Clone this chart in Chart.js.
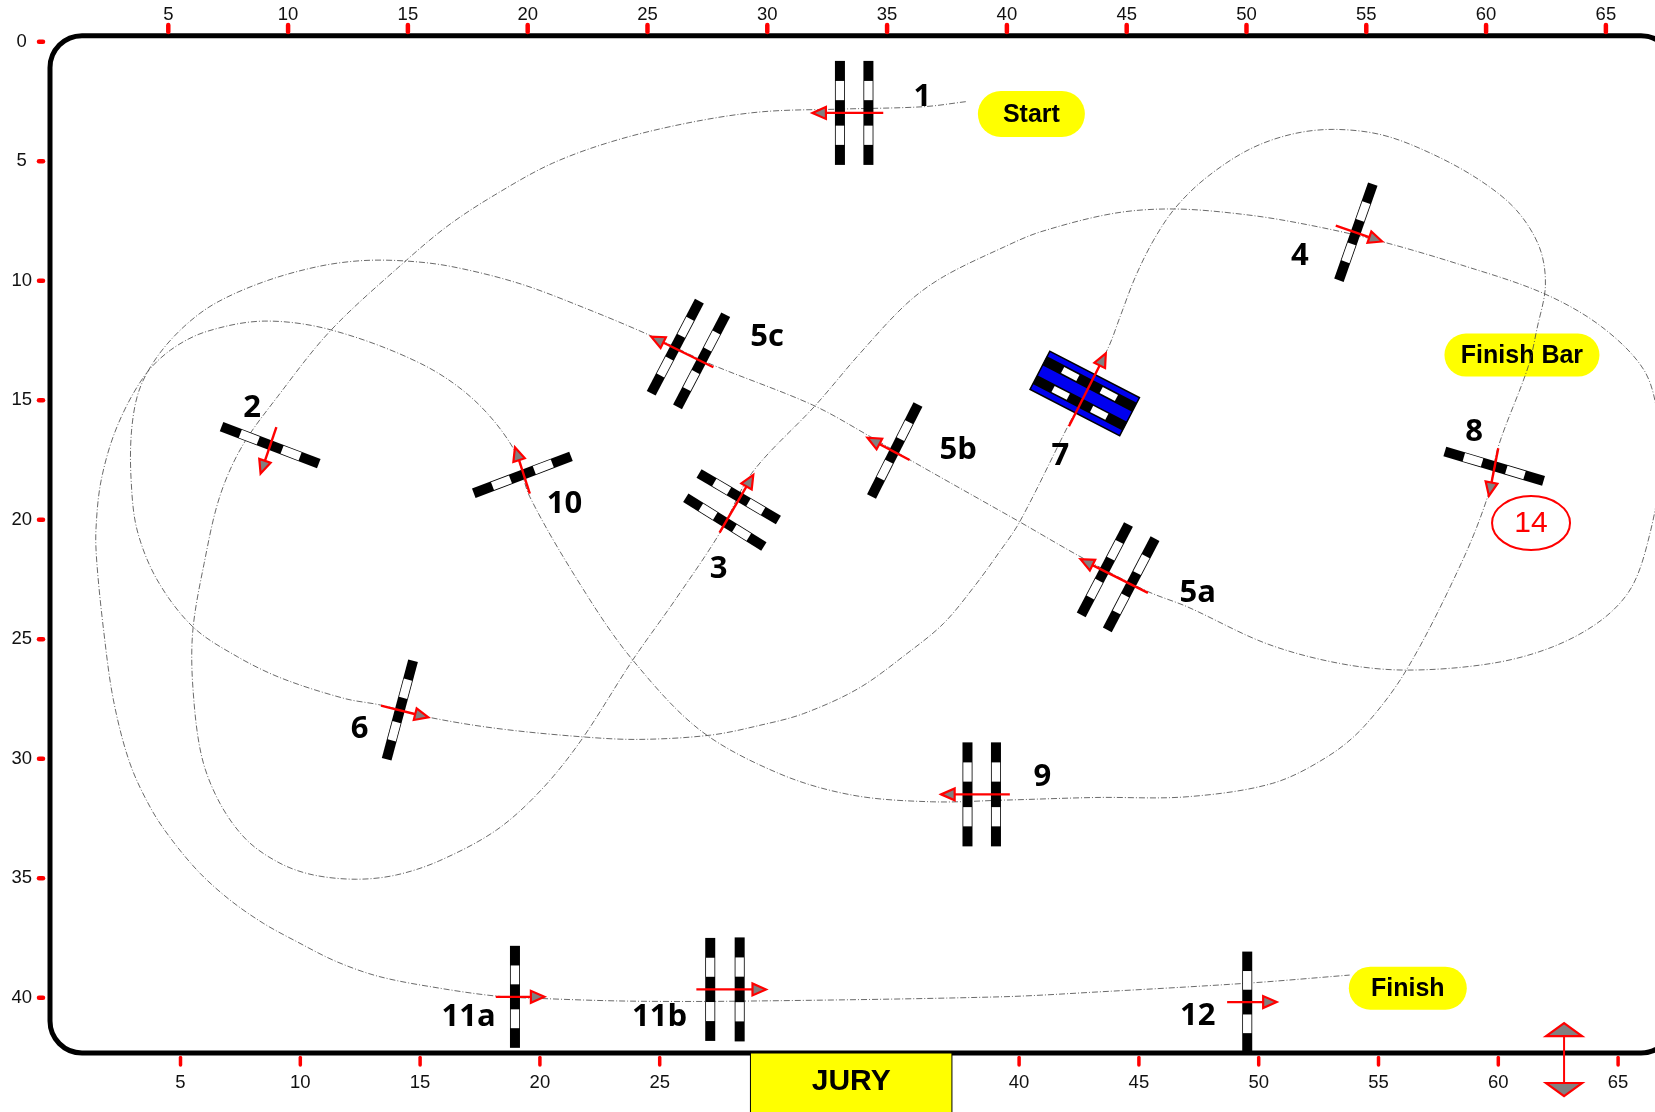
<!DOCTYPE html>
<html>
<head>
<meta charset="utf-8">
<title>Course plan</title>
<script src="https://cdn.jsdelivr.net/npm/chart.js@4"></script>
<style>
html, body { margin: 0; padding: 0; background: #fff; overflow: hidden; }
canvas { display: block; }
</style>
</head>
<body>
<canvas id="myChart" width="1655" height="1112"></canvas>
<script>
// tick labels of the arena axes (metres)
var topTicks = [5, 10, 15, 20, 25, 30, 35, 40, 45, 50, 55, 60, 65];
var bottomTicks = [5, 10, 15, 20, 25, 40, 45, 50, 55, 60, 65];
var leftTicks = [0, 5, 10, 15, 20, 25, 30, 35, 40];

// route, in arena metres
var routeX = [38.33, 36.57, 33.13, 29.85, 26.97, 23.77, 21.05, 18.65, 16.73, 14.97, 11.81, 9.57, 8.08, 7.15, 6.5, 6.03, 6.03, 6.4, 7.16, 8.28, 9.67, 11.06, 12.87, 14.54, 16.35, 18.72, 20.58, 22.26, 24.41, 26.18, 28.04, 29.38, 32.06, 33.9, 35.87, 37.4, 39.95, 41.47, 44.53, 47.07, 50.13, 52.67, 55.47, 59.03, 62.47, 64.89, 66.67, 67.25, 67.35, 66.92, 66.16, 64.89, 62.85, 60.31, 56.74, 53.94, 50.89, 47.58, 45.93, 43.25, 40.58, 36.0, 34.35, 31.93, 27.6, 25.25, 22.45, 19.65, 16.85, 14.98, 13.1, 11.25, 9.01, 6.96, 5.66, 4.54, 3.79, 3.47, 3.45, 3.7, 4.54, 6.03, 7.89, 9.76, 12.37, 13.86, 15.92, 18.72, 22.26, 24.69, 27.67, 29.77, 31.55, 33.84, 35.87, 37.4, 38.67, 39.69, 40.58, 42.62, 44.27, 44.78, 45.42, 46.18, 47.07, 48.34, 50.13, 51.91, 53.69, 55.72, 57.76, 59.8, 61.33, 62.3, 62.55, 62.2, 61.83, 60.56, 60.18, 59.03, 56.74, 54.96, 53.43, 51.14, 47.58, 43.76, 39.95, 36.89, 33.58, 30.53, 27.22, 24.41, 22.45, 20.11, 19.46, 17.78, 15.54, 11.81, 9.01, 6.59, 5.1, 3.98, 2.86, 2.2, 1.98, 2.02, 2.3, 2.71, 3.4, 4.31, 5.21, 6.33, 7.58, 8.97, 10.37, 12.04, 13.85, 16.35, 18.72, 20.58, 24.31, 28.98, 39.76, 43.94, 50.08, 54.37];
var routeY = [2.51, 2.72, 2.82, 2.93, 3.35, 4.11, 5.09, 6.41, 7.67, 9.13, 12.06, 14.85, 16.94, 19.04, 21.83, 24.62, 27.0, 29.91, 31.86, 33.4, 34.37, 34.86, 35.04, 34.86, 34.26, 32.98, 31.31, 29.22, 25.87, 23.36, 20.57, 18.06, 15.2, 13.05, 10.95, 9.83, 8.58, 7.95, 7.18, 7.0, 7.25, 7.67, 8.3, 9.34, 10.53, 11.92, 13.74, 15.7, 18.0, 20.57, 22.81, 24.2, 25.32, 26.01, 26.29, 26.01, 25.18, 23.64, 23.0, 21.62, 20.09, 17.5, 16.53, 15.2, 13.46, 12.34, 11.16, 10.11, 9.41, 9.18, 9.16, 9.41, 10.04, 10.95, 11.92, 13.18, 14.57, 16.25, 18.34, 20.43, 22.52, 24.48, 25.73, 26.64, 27.48, 27.75, 28.27, 28.73, 29.08, 29.19, 29.01, 28.59, 28.11, 27.06, 25.6, 24.34, 22.81, 21.41, 20.09, 16.04, 12.83, 11.5, 9.83, 8.3, 6.97, 5.72, 4.53, 3.88, 3.67, 3.9, 4.67, 5.79, 7.04, 8.6, 10.2, 12.0, 13.6, 17.01, 18.9, 21.83, 26.29, 28.66, 29.92, 31.03, 31.59, 31.62, 31.73, 31.8, 31.52, 30.62, 28.8, 25.87, 23.08, 19.04, 17.08, 14.99, 13.46, 12.06, 11.69, 12.13, 12.9, 14.02, 16.11, 18.34, 20.43, 21.83, 24.62, 27.54, 30.19, 32.14, 33.47, 34.79, 35.91, 36.88, 37.65, 38.49, 39.12, 39.6, 39.93, 40.03, 40.14, 40.14, 39.96, 39.75, 39.39, 39.05];

// gate bars: centre, direction in degrees, length
var barX = [33.07, 34.26, 9.26, 28.84, 28.26, 54.63, 44.14, 45.24, 35.36, 26.19, 27.29, 14.68, 60.41, 38.4, 39.59, 19.8, 19.49, 27.65, 28.88, 50.09];
var barY = [2.98, 2.98, 16.88, 19.04, 20.1, 7.97, 22.09, 22.7, 17.1, 12.78, 13.35, 27.96, 17.76, 31.49, 31.49, 18.12, 39.96, 39.65, 39.65, 40.18];
var barAngle = [90, 90, 20.8, 30.4, 31.9, 109.4, 117.6, 117.6, 116.8, 117.6, 117.6, 105, 16.6, 90, 90, -20.8, 90, 90, 90, 90];
var barLength = [104, 104, 104, 92, 92, 102, 102, 103, 103, 104, 104, 102, 103, 104, 104, 104, 102, 103, 104, 101];

// blue water jump at gate 7 with its two bars
var waterX = 43.3;
var waterY = 14.72;
var waterAngle = 27.4;
var waterBarX = [43.5, 43.1];
var waterBarY = [14.32, 15.11];

// direction arrows: tail and tip
var arrowX0 = [34.88, 9.52, 28.04, 53.79, 45.94, 35.98, 27.78, 13.89, 42.64, 60.58, 40.17, 20.11, 18.69, 27.07, 49.25];
var arrowY0 = [2.98, 16.13, 20.54, 7.7, 23.06, 17.5, 13.62, 27.78, 16.09, 17.01, 31.49, 18.91, 39.96, 39.65, 40.18];
var arrowX1 = [31.92, 8.86, 29.45, 55.73, 43.12, 34.22, 25.18, 15.87, 44.18, 60.19, 37.3, 19.49, 20.72, 29.98, 51.32];
var arrowY1 = [2.98, 18.07, 18.12, 8.36, 21.65, 16.57, 12.34, 28.27, 13.04, 19.0, 31.49, 16.97, 39.96, 39.65, 40.18];

// gate numbers
var gateNames = ['1', '2', '3', '4', '5a', '5b', '5c', '6', '7', '8', '9', '10', '11a', '11b', '12'];
var gateNameX = [36.51, 8.51, 28.0, 52.29, 48.02, 38.01, 30.03, 13.0, 42.28, 59.57, 41.53, 21.56, 17.55, 25.53, 48.02];
var gateNameY = [2.33, 15.35, 22.05, 8.99, 23.07, 17.07, 12.35, 28.76, 17.33, 16.32, 30.75, 19.36, 40.81, 40.81, 40.77];

// yellow signs
var pillNames = ['Start', 'Finish Bar', 'Finish'];
var pillX = [41.07, 61.57, 56.8];
var pillY = [3.03, 13.11, 39.6];
var pillWidth = [107, 155, 118];
var pillHeight = [46, 43, 43];

var ctx = document.getElementById('myChart');

function fixedTicks(list) {
    return function (scale) {
        scale.ticks = list.map(function (v) { return { value: v }; });
    };
}

function drawBar(c, px, py, angle, L, whiteLen, inset) {
    var T = 10;
    c.save();
    c.translate(px, py);
    c.rotate(angle * Math.PI / 180);
    c.fillStyle = '#000';
    c.fillRect(-L / 2, -T / 2, L, T);
    c.fillStyle = '#fff';
    c.fillRect(-0.215 * L - whiteLen * L / 2, -T / 2 + inset, whiteLen * L, T - 2 * inset);
    c.fillRect(0.215 * L - whiteLen * L / 2, -T / 2 + inset, whiteLen * L, T - 2 * inset);
    c.restore();
}

function drawHead(c, tipX, tipY, ang, len, half) {
    c.save();
    c.translate(tipX, tipY);
    c.rotate(ang);
    c.beginPath();
    c.moveTo(0, 0);
    c.lineTo(-len, -half);
    c.lineTo(-len, half);
    c.closePath();
    c.fillStyle = '#808080';
    c.fill();
    c.lineWidth = 2.2;
    c.strokeStyle = '#f00';
    c.stroke();
    c.restore();
}

// frame, signs, JURY box go under the route
var arenaBack = {
    id: 'arenaBack',
    beforeDatasetsDraw: function (chart) {
        var c = chart.ctx, a = chart.chartArea;
        var x = chart.scales.x, y = chart.scales.y;
        c.save();
        c.lineWidth = 5;
        c.strokeStyle = '#000';
        c.beginPath();
        c.roundRect(a.left, a.top, 1673 - a.left, a.bottom - a.top, 32);
        c.stroke();

        // red tick marks
        c.strokeStyle = '#f00';
        c.lineCap = 'round';
        c.lineWidth = 4.5;
        chart.scales.xTop.ticks.forEach(function (t) {
            var p = chart.scales.xTop.getPixelForValue(t.value);
            c.beginPath(); c.moveTo(p, 25); c.lineTo(p, 32); c.stroke();
        });
        y.ticks.forEach(function (t) {
            var p = y.getPixelForValue(t.value);
            c.beginPath(); c.moveTo(39, p); c.lineTo(43, p); c.stroke();
        });
        c.lineWidth = 3.5;
        chart.scales.x2.ticks.forEach(function (t) {
            var p = chart.scales.x2.getPixelForValue(t.value);
            c.beginPath(); c.moveTo(p, 1057.5); c.lineTo(p, 1065); c.stroke();
        });
        c.lineCap = 'butt';

        // JURY
        var jl = x.getPixelForValue(29.33), jr = x.getPixelForValue(37.75);
        c.fillStyle = '#ff0';
        c.fillRect(jl, a.bottom, jr - jl, chart.height - a.bottom + 2);
        c.lineWidth = 1;
        c.strokeStyle = '#000';
        c.strokeRect(jl, a.bottom, jr - jl, chart.height - a.bottom + 2);
        c.fillStyle = '#000';
        c.font = 'bold 30px "Liberation Sans"';
        c.textAlign = 'center';
        c.textBaseline = 'middle';
        c.fillText('JURY', (jl + jr) / 2, 1082);

        // signs
        pillNames.forEach(function (name, i) {
            var px = x.getPixelForValue(pillX[i]), py = y.getPixelForValue(pillY[i]);
            var w = pillWidth[i], h = pillHeight[i];
            c.fillStyle = '#ff0';
            c.beginPath();
            c.roundRect(px - w / 2, py - h / 2, w, h, h / 2);
            c.fill();
            c.fillStyle = '#000';
            c.font = 'bold 25px "Liberation Sans"';
            c.fillText(name, px, py + 1);
        });
        c.restore();
    }
};

// gates, arrows, labels go over the route
var arenaFront = {
    id: 'arenaFront',
    afterDatasetsDraw: function (chart) {
        var c = chart.ctx;
        var x = chart.scales.x, y = chart.scales.y;
        c.save();

        // water jump
        c.save();
        c.translate(x.getPixelForValue(waterX), y.getPixelForValue(waterY));
        c.rotate(waterAngle * Math.PI / 180);
        c.fillStyle = '#0000f0';
        c.strokeStyle = '#000';
        c.lineWidth = 1.5;
        c.fillRect(-50.5, -21.5, 101, 43);
        c.strokeRect(-50.5, -21.5, 101, 43);
        c.restore();
        waterBarX.forEach(function (v, i) {
            drawBar(c, x.getPixelForValue(v), y.getPixelForValue(waterBarY[i]), waterAngle, 101, 0.17, 1.6);
        });

        barX.forEach(function (v, i) {
            drawBar(c, x.getPixelForValue(v), y.getPixelForValue(barY[i]), barAngle[i], barLength[i], 0.185, 0.8);
        });

        arrowX0.forEach(function (v, i) {
            var x0 = x.getPixelForValue(v), y0 = y.getPixelForValue(arrowY0[i]);
            var x1 = x.getPixelForValue(arrowX1[i]), y1 = y.getPixelForValue(arrowY1[i]);
            var ang = Math.atan2(y1 - y0, x1 - x0);
            c.strokeStyle = '#f00';
            c.lineWidth = 2.4;
            c.beginPath();
            c.moveTo(x0, y0);
            c.lineTo(x1 - 10 * Math.cos(ang), y1 - 10 * Math.sin(ang));
            c.stroke();
            drawHead(c, x1, y1, ang, 13.5, 6);
        });

        // gate numbers
        c.fillStyle = '#000';
        c.font = 'bold 31px "Open Sans"';
        c.textAlign = 'center';
        c.textBaseline = 'middle';
        gateNames.forEach(function (name, i) {
            c.fillText(name, x.getPixelForValue(gateNameX[i]), y.getPixelForValue(gateNameY[i]));
        });

        // circled 14
        var ex = x.getPixelForValue(61.95), ey = y.getPixelForValue(20.14);
        c.strokeStyle = '#f00';
        c.lineWidth = 2;
        c.beginPath();
        c.ellipse(ex, ey, 39, 27, 0, 0, Math.PI * 2);
        c.stroke();
        c.fillStyle = '#f00';
        c.font = '30px "Liberation Sans"';
        c.fillText('14', ex, ey + 1);

        // scale arrow bottom right
        var sx = x.getPixelForValue(63.33), s0 = y.getPixelForValue(41.06), s1 = y.getPixelForValue(44.11);
        c.strokeStyle = '#f00';
        c.lineWidth = 2;
        c.beginPath();
        c.moveTo(sx, s0 + 12);
        c.lineTo(sx, s1 - 12);
        c.stroke();
        drawHead(c, sx, s0, -Math.PI / 2, 13, 18);
        drawHead(c, sx, s1, Math.PI / 2, 13, 18);
        c.restore();
    }
};

var tickFont = { family: '"Liberation Sans"', size: 18.5 };

new Chart(ctx, {
    type: 'scatter',
    data: {
        datasets: [{
            label: 'Route',
            data: routeX.map(function (v, i) { return { x: v, y: routeY[i] }; }),
            showLine: true,
            tension: 0.33,
            borderColor: '#444',
            borderWidth: 0.8,
            borderDash: [6, 2, 1, 2],
            pointRadius: 0,
            xAxisID: 'x',
            yAxisID: 'y'
        }]
    },
    options: {
        responsive: false,
        animation: false,
        layout: { padding: 0 },
        plugins: { legend: { display: false }, tooltip: { enabled: false } },
        scales: {
            x: {
                type: 'linear',
                display: false,
                min: 0.06,
                max: 67.13
            },
            xTop: {
                type: 'linear',
                axis: 'x',
                position: 'top',
                min: 0.063,
                max: 67.05,
                afterBuildTicks: fixedTicks(topTicks),
                afterFit: function (s) { s.height = 35.7; },
                border: { display: false },
                grid: { drawOnChartArea: false, tickColor: 'transparent', tickLength: 10 },
                ticks: { color: '#111', font: tickFont, padding: 0, maxRotation: 0, autoSkip: false }
            },
            x2: {
                type: 'linear',
                axis: 'x',
                position: 'bottom',
                min: -0.447,
                max: 66.54,
                afterBuildTicks: fixedTicks(bottomTicks),
                afterFit: function (s) { s.height = 59; },
                border: { display: false },
                grid: { drawOnChartArea: false, tickColor: 'transparent', tickLength: 13 },
                ticks: { color: '#111', font: tickFont, padding: 6, maxRotation: 0, autoSkip: false }
            },
            y: {
                type: 'linear',
                position: 'left',
                reverse: true,
                min: -0.25,
                max: 42.31,
                afterBuildTicks: fixedTicks(leftTicks),
                afterFit: function (s) { s.width = 50; },
                border: { display: false },
                grid: { drawOnChartArea: false, tickColor: 'transparent', tickLength: 14 },
                ticks: { color: '#111', font: tickFont, padding: 4, crossAlign: 'center', autoSkip: false }
            }
        }
    },
    plugins: [arenaBack, arenaFront]
});
</script>
</body>
</html>
